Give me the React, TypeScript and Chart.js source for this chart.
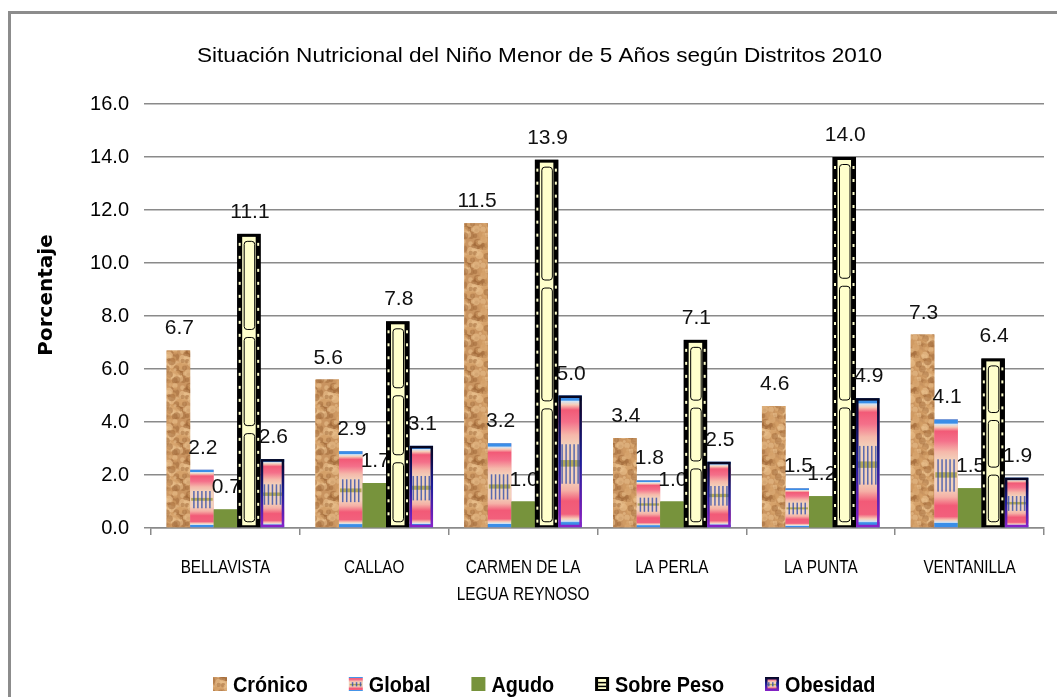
import React, { useEffect, useRef } from "react";
import { Chart, registerables } from "chart.js";

Chart.register(...registerables);

const chartTitle = "Situación Nutricional del Niño Menor de 5 Años según Distritos 2010";
const yAxisTitle = "Porcentaje";
const categories: string[][] = [
  ["BELLAVISTA"],
  ["CALLAO"],
  ["CARMEN DE LA", "LEGUA REYNOSO"],
  ["LA PERLA"],
  ["LA PUNTA"],
  ["VENTANILLA"],
];
const seriesNames = ["Crónico", "Global", "Agudo", "Sobre Peso", "Obesidad"];
const cronico = [6.7, 5.6, 11.5, 3.4, 4.6, 7.3];
const globalDesn = [2.2, 2.9, 3.2, 1.8, 1.5, 4.1];
const agudo = [0.7, 1.7, 1.0, 1.0, 1.2, 1.5];
const sobrePeso = [11.1, 7.8, 13.9, 7.1, 14.0, 6.4];
const obesidad = [2.6, 3.1, 5.0, 2.5, 4.9, 1.9];
const yTickLabels = ["0.0", "2.0", "4.0", "6.0", "8.0", "10.0", "12.0", "14.0", "16.0"];

const GRID = "#8a8a8a";
const SANS = "'Liberation Sans', Arial, sans-serif";

function makeCork(ctx: CanvasRenderingContext2D): CanvasPattern | string {
  const size = 36;
  const c = document.createElement("canvas");
  c.width = size;
  c.height = size;
  const g = c.getContext("2d");
  if (!g) return "#c8935e";
  g.fillStyle = "#c99460";
  g.fillRect(0, 0, size, size);
  let s = 98765;
  const rnd = () => {
    s = (s * 1103515245 + 12345) & 0x7fffffff;
    return s / 0x7fffffff;
  };
  for (let i = 0; i < 110; i++) {
    const x = rnd() * size;
    const y = rnd() * size;
    const r = 1.4 + rnd() * 2.6;
    const t = rnd();
    g.fillStyle =
      t < 0.3 ? "rgba(160,104,56,0.5)" : t < 0.7 ? "rgba(234,192,140,0.6)" : "rgba(212,158,102,0.55)";
    for (const dx of [-size, 0, size]) {
      for (const dy of [-size, 0, size]) {
        g.beginPath();
        g.arc(x + dx, y + dy, r, 0, Math.PI * 2);
        g.fill();
      }
    }
  }
  return ctx.createPattern(c, "repeat") || "#c8935e";
}

function stripeFill(ctx: CanvasRenderingContext2D, l: number, t: number, w: number, h: number) {
  const g = ctx.createLinearGradient(0, t, 0, t + h);
  const stops: [number, string][] = [
    [0, "#3a8ee8"],
    [0.035, "#3a8ee8"],
    [0.045, "#d6e4f2"],
    [0.07, "#f7cdb8"],
    [0.11, "#f25a77"],
    [0.2, "#f4708a"],
    [0.3, "#f5b8aa"],
    [0.38, "#f2d2bc"],
    [0.64, "#f2d2bc"],
    [0.72, "#f5b0a6"],
    [0.8, "#f25a77"],
    [0.9, "#f2607c"],
    [0.935, "#f7cdb8"],
    [0.955, "#d6e4f2"],
    [0.965, "#3a8ee8"],
    [1, "#3a8ee8"],
  ];
  stops.forEach(([o, c]) => g.addColorStop(o, c));
  ctx.fillStyle = g;
  ctx.fillRect(l, t, w, h);
  const mTop = t + h * 0.37;
  const mH = h * 0.3;
  ctx.fillStyle = "rgba(168,160,70,0.85)";
  ctx.fillRect(l + 1, t + h * 0.49, w - 2, Math.max(1.5, h * 0.05));
  ctx.fillStyle = "rgba(40,70,170,0.75)";
  for (let x = l + 3; x < l + w - 2; x += 4) {
    ctx.fillRect(x, mTop, 1.5, mH);
  }
}

function drawFilm(ctx: CanvasRenderingContext2D, l: number, t: number, w: number, h: number) {
  const side = Math.min(5, w * 0.22);
  ctx.fillStyle = "#000";
  ctx.fillRect(l, t, w, h);
  ctx.fillStyle = "#ffffcc";
  ctx.fillRect(l + side, t + 3, w - 2 * side, h - 5);
  for (let yy = t + 9; yy < t + h - 6; yy += 13) {
    ctx.fillRect(l + 1.5, yy, 2, 3);
    ctx.fillRect(l + w - 3.5, yy, 2, 3);
  }
  ctx.strokeStyle = "#000";
  ctx.lineWidth = 1;
  const n = 3;
  const innerTop = t + 3;
  const innerH = h - 5;
  const seg = innerH / n;
  for (let k = 0; k < n; k++) {
    const st = innerTop + k * seg + 4;
    const sh = seg - 8;
    if (sh < 4) continue;
    const x0 = l + side + 1.5;
    const ww = w - 2 * side - 3;
    ctx.beginPath();
    if ((ctx as any).roundRect) (ctx as any).roundRect(x0 + 0.5, st + 0.5, ww, sh, 3);
    else ctx.rect(x0 + 0.5, st + 0.5, ww, sh);
    ctx.stroke();
  }
}

function drawObesBorder(ctx: CanvasRenderingContext2D, l: number, t: number, w: number, h: number) {
  const g = ctx.createLinearGradient(0, t, 0, t + h);
  g.addColorStop(0, "#05051e");
  g.addColorStop(0.5, "#1d1d9a");
  g.addColorStop(1, "#8a22c8");
  ctx.strokeStyle = g;
  ctx.lineWidth = 2.5;
  ctx.strokeRect(l + 1.25, t + 1.25, w - 2.5, h - 2.5);
}

function drawSeriesBox(
  ctx: CanvasRenderingContext2D,
  i: number,
  l: number,
  t: number,
  w: number,
  h: number,
  cork: CanvasPattern | string
) {
  if (i === 0) {
    ctx.fillStyle = cork;
    ctx.fillRect(l, t, w, h);
  } else if (i === 1) {
    stripeFill(ctx, l, t, w, h);
  } else if (i === 2) {
    ctx.fillStyle = "#77933c";
    ctx.fillRect(l, t, w, h);
  } else if (i === 3) {
    ctx.fillStyle = "#000";
    ctx.fillRect(l, t, w, h);
    ctx.fillStyle = "#ffffcc";
    ctx.fillRect(l + 3, t + 2, w - 6, h - 4);
    ctx.fillStyle = "#000";
    ctx.fillRect(l + 3, t + h * 0.35, w - 6, 1.5);
    ctx.fillRect(l + 3, t + h * 0.62, w - 6, 1.5);
  } else {
    stripeFill(ctx, l, t, w, h);
    drawObesBorder(ctx, l, t, w, h);
  }
}

function scaledText(
  ctx: CanvasRenderingContext2D,
  text: string,
  x: number,
  y: number,
  sx: number,
  align: "left" | "center"
) {
  const w = ctx.measureText(text).width * sx;
  const left = align === "center" ? x - w / 2 : x;
  ctx.save();
  ctx.translate(left, y);
  ctx.scale(sx, 1);
  ctx.textAlign = "left";
  ctx.fillText(text, 0, 0);
  ctx.restore();
  return w;
}

export default function App() {
  const ref = useRef<HTMLCanvasElement | null>(null);

  useEffect(() => {
    const canvas = ref.current;
    if (!canvas) return;
    const ctx0 = canvas.getContext("2d");
    if (!ctx0) return;
    const cork = makeCork(ctx0);

    const custom = {
      id: "custom",
      beforeDraw(chart: any) {
        const ctx = chart.ctx as CanvasRenderingContext2D;
        ctx.save();
        ctx.fillStyle = "#fff";
        ctx.fillRect(0, 0, chart.width, chart.height);
        ctx.strokeStyle = "#8c8c8c";
        ctx.lineWidth = 3;
        ctx.beginPath();
        ctx.moveTo(9.5, chart.height + 5);
        ctx.lineTo(9.5, 12.5);
        ctx.lineTo(chart.width + 5, 12.5);
        ctx.stroke();
        ctx.restore();
      },
      afterDatasetsDraw(chart: any) {
        const ctx = chart.ctx as CanvasRenderingContext2D;
        ctx.save();
        chart.data.datasets.forEach((ds: any, i: number) => {
          const meta = chart.getDatasetMeta(i);
          meta.data.forEach((el: any) => {
            const p = el.getProps(["x", "y", "base", "width"], true);
            const l = p.x - p.width / 2;
            const t = Math.min(p.y, p.base);
            const h = Math.abs(p.base - p.y);
            const w = p.width;
            if (i === 1) stripeFill(ctx, l, t, w, h);
            else if (i === 3) drawFilm(ctx, l, t, w, h);
            else if (i === 4) {
              stripeFill(ctx, l, t, w, h);
              drawObesBorder(ctx, l, t, w, h);
            } else el.draw(ctx);
          });
          ctx.fillStyle = "#111";
          ctx.font = "21px " + SANS;
          ctx.textAlign = "center";
          ctx.textBaseline = "alphabetic";
          meta.data.forEach((el: any, j: number) => {
            const p = el.getProps(["x", "y"], true);
            ctx.fillText(Number(ds.data[j]).toFixed(1), p.x + 1, p.y - 16);
          });
        });
        ctx.restore();
      },
      afterDraw(chart: any) {
        const ctx = chart.ctx as CanvasRenderingContext2D;
        ctx.save();
        ctx.fillStyle = "#000";
        ctx.textBaseline = "alphabetic";
        // title
        ctx.font = "21px " + SANS;
        const tw = ctx.measureText(chartTitle).width;
        scaledText(ctx, chartTitle, 197, 62, 685 / tw, "left");
        // x category labels
        const xs = chart.scales.x;
        ctx.font = "18px " + SANS;
        categories.forEach((lines, i) => {
          const cx = xs.getPixelForValue(i);
          lines.forEach((ln, k) => {
            scaledText(ctx, ln, cx, xs.top + 45 + k * 27, 0.85, "center");
          });
        });
        // y title
        ctx.save();
        ctx.translate(52, 295);
        ctx.rotate(-Math.PI / 2);
        ctx.font = "bold 20px 'DejaVu Sans', sans-serif";
        ctx.textAlign = "center";
        ctx.fillText(yAxisTitle, 0, 0);
        ctx.restore();
        // legend
        ctx.font = "bold 22px " + SANS;
        const boxW = 14;
        const boxH = 14;
        const gapBox = 6;
        const spacing = 41;
        let x = 213;
        const base = 692;
        seriesNames.forEach((n, i) => {
          drawSeriesBox(ctx, i, x, 677, boxW, boxH, cork);
          x += boxW + gapBox;
          ctx.fillStyle = "#000";
          const w = scaledText(ctx, n, x, base, 0.9, "left");
          x += w + spacing;
        });
        ctx.restore();
      },
    };

    const chart = new Chart(canvas, {
      type: "bar",
      data: {
        labels: categories.map((c) => c.join(" ")),
        datasets: [
          { label: seriesNames[0], data: cronico, backgroundColor: cork as any },
          { label: seriesNames[1], data: globalDesn, backgroundColor: "#f4a0a8" },
          { label: seriesNames[2], data: agudo, backgroundColor: "#77933c" },
          { label: seriesNames[3], data: sobrePeso, backgroundColor: "#ffffcc", borderColor: "#000", borderWidth: 4 },
          { label: seriesNames[4], data: obesidad, backgroundColor: "#f4a0a8", borderColor: "#1d1d9a", borderWidth: 2 },
        ],
      },
      options: {
        responsive: false,
        animation: false,
        layout: { padding: { left: 0, right: 13, top: 104, bottom: 89 } },
        datasets: { bar: { categoryPercentage: 0.79, barPercentage: 1 } },
        plugins: {
          legend: { display: false },
          title: { display: false },
          tooltip: { enabled: false },
        },
        scales: {
          x: {
            grid: {
              display: true,
              drawOnChartArea: false,
              drawTicks: true,
              tickLength: 7,
              color: GRID,
              lineWidth: 1.5,
              offset: true,
            },
            border: { display: true, color: GRID, width: 1.5 },
            ticks: {
              font: { family: SANS, size: 18 },
              color: "rgba(0,0,0,0)",
              padding: 18,
              maxRotation: 0,
              autoSkip: false,
            },
            afterFit: (s: any) => {
              s.height = 80;
            },
          },
          y: {
            min: 0,
            max: 16,
            ticks: {
              stepSize: 2,
              callback: (_v: any, i: number) => yTickLabels[i],
              font: { family: SANS, size: 20 },
              color: "#000",
              padding: 15,
            },
            grid: { color: GRID, lineWidth: 1.5, tickLength: 7, drawTicks: true },
            border: { display: false },
            afterFit: (s: any) => {
              s.width = 151;
            },
          },
        },
      },
      plugins: [custom],
    } as any);

    return () => chart.destroy();
  }, []);

  return (
    <div
      style={{
        position: "fixed",
        left: 0,
        top: 0,
        width: 1057,
        height: 697,
        overflow: "hidden",
        background: "#fff",
      }}
    >
      <canvas ref={ref} width={1057} height={697} style={{ display: "block", width: 1057, height: 697 }} />
    </div>
  );
}
